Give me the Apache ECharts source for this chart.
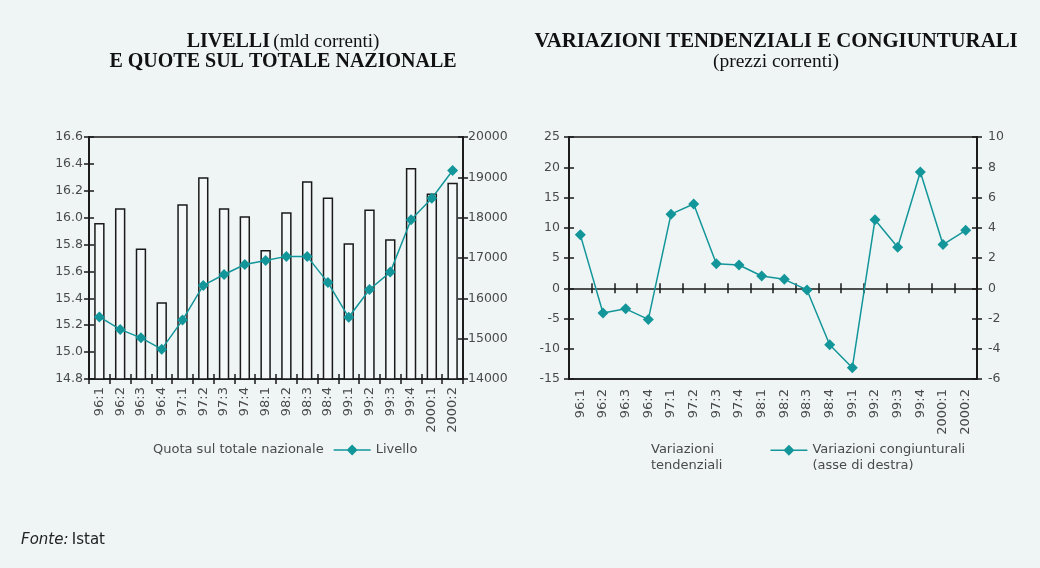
<!DOCTYPE html>
<html>
<head>
<meta charset="utf-8">
<title>Livelli e variazioni</title>
<script src="https://cdn.jsdelivr.net/npm/echarts@6/dist/echarts.min.js"></script>
<style>
  html, body { margin: 0; padding: 0; background: #eff5f5; }
  #chart { width: 1040px; height: 568px; }
</style>
</head>
<body>
<div id="chart"></div>
<script>
// trimestri
var categories = ['96:1', '96:2', '96:3', '96:4', '97:1', '97:2', '97:3', '97:4',
  '98:1', '98:2', '98:3', '98:4', '99:1', '99:2', '99:3', '99:4', '2000:1', '2000:2'];

// grafico di sinistra
var quota = [15.96, 16.07, 15.77, 15.37, 16.10, 16.30, 16.07, 16.01, 15.76,
  16.04, 16.27, 16.15, 15.81, 16.06, 15.84, 16.37, 16.18, 16.26];
var livello = [15540, 15230, 15020, 14740, 15460, 16320, 16590, 16840, 16940,
  17040, 17040, 16390, 15530, 16220, 16650, 17950, 18480, 19170];

// grafico di destra (la serie tendenziale non ha segni visibili)
var tendenziali = [];
var congiunturali = [3.53, -1.64, -1.36, -2.06, 4.90, 5.57, 1.62, 1.54, 0.81,
  0.59, -0.11, -3.74, -5.25, 4.53, 2.71, 7.68, 2.89, 3.83];

var teal = '#13969a';
var ink = '#1a1a1a';
var labelColor = '#4a4a4a';
var sans = 'DejaVu Sans';
var serif = 'Liberation Serif';

// icone legenda: linea con rombo (la seconda allineata alla prima riga del testo)
var lineIconShort = 'path://M0,4.25L37,4.25L37,5.75L0,5.75Z M13,5L18.5,-0.5L24,5L18.5,10.5Z';
var lineIcon = 'path://M0,4.25L37,4.25L37,5.75L0,5.75Z M13,5L18.5,-0.5L24,5L18.5,10.5Z M0,26L0.05,26L0,26.05Z';

function yAx(grid, pos, min, max, step, inside, margin, fmt) {
  return {
    type: 'value', gridIndex: grid, position: pos, min: min, max: max, interval: step,
    splitLine: { show: false },
    axisLine: { show: true, lineStyle: { color: ink, width: 1.5 } },
    axisTick: { show: true, inside: inside, length: 5, lineStyle: { color: ink, width: 1.5 } },
    axisLabel: { show: !inside, color: labelColor, fontFamily: sans, fontSize: 12.5, margin: margin,
      formatter: fmt || function (v) { return String(v); } }
  };
}

function xTicks(grid, inside, offset) {
  return {
    type: 'category', gridIndex: grid, data: categories, position: 'bottom', offset: offset,
    axisLine: { show: !inside, onZero: false, lineStyle: { color: ink, width: 1.5 } },
    axisTick: { show: true, interval: 0, inside: inside, length: 5, lineStyle: { color: ink, width: 1.5 } },
    axisLabel: { show: false }
  };
}

var myChart = echarts.init(document.getElementById('chart'));
myChart.setOption({
  backgroundColor: '#eff5f5',
  animation: false,
  grid: [
    { left: 89, right: 577, top: 137, bottom: 189, show: true, borderColor: ink, borderWidth: 1.5, backgroundColor: 'transparent' },
    { left: 569, right: 63, top: 137, bottom: 189, show: true, borderColor: ink, borderWidth: 1.5, backgroundColor: 'transparent' }
  ],
  xAxis: [
    { // sinistra, etichette + tacche esterne
      type: 'category', gridIndex: 0, data: categories, position: 'bottom',
      axisLine: { onZero: false, lineStyle: { color: ink, width: 1.5 } },
      axisTick: { show: true, interval: 0, length: 5, lineStyle: { color: ink, width: 1.5 } },
      axisLabel: { rotate: 90, interval: 0, color: labelColor, fontFamily: sans, fontSize: 13, margin: 8 }
    },
    xTicks(0, true, 0),
    { // destra, solo etichette in basso
      type: 'category', gridIndex: 1, data: categories, position: 'bottom',
      axisLine: { onZero: false, lineStyle: { color: ink, width: 1.5 } },
      axisTick: { show: false },
      axisLabel: { rotate: 90, interval: 0, color: labelColor, fontFamily: sans, fontSize: 13, margin: 10 }
    },
    // asse sullo zero del grafico di destra (tacche sopra e sotto)
    xTicks(1, false, -90.75),
    xTicks(1, true, -90.75)
  ],
  yAxis: [
    yAx(0, 'left', 14.8, 16.6, 0.2, false, 6, function (v) { return v.toFixed(1); }),
    yAx(0, 'left', 14.8, 16.6, 0.2, true, 6),
    yAx(0, 'right', 14000, 20000, 1000, false, 5),
    yAx(0, 'right', 14000, 20000, 1000, true, 5),
    yAx(1, 'left', -15, 25, 5, false, 9),
    yAx(1, 'right', -6, 10, 2, false, 11),
    yAx(1, 'left', -15, 25, 5, true, 9),
    yAx(1, 'right', -6, 10, 2, true, 11)
  ],
  legend: [
    {
      left: 110, top: 442, padding: 0, itemWidth: 37, itemHeight: 11, itemGap: 10,
      textStyle: { color: labelColor, fontFamily: sans, fontSize: 13, lineHeight: 16 },
      data: [
        { name: 'Quota sul totale nazionale', itemStyle: { opacity: 0 } },
        { name: 'Livello', icon: lineIconShort }
      ]
    },
    {
      left: 609, top: 442, padding: 0, itemWidth: 37, itemHeight: 26.5, itemGap: 48,
      textStyle: { color: labelColor, fontFamily: sans, fontSize: 13, lineHeight: 16 },
      data: [
        { name: 'Variazioni\ntendenziali', itemStyle: { opacity: 0 } },
        { name: 'Variazioni congiunturali\n(asse di destra)', icon: lineIcon }
      ]
    }
  ],
  series: [
    {
      name: 'Quota sul totale nazionale', type: 'bar', xAxisIndex: 0, yAxisIndex: 0,
      data: quota, barWidth: '50%',
      itemStyle: { color: '#f4f8f8', borderColor: ink, borderWidth: 1.5 }
    },
    {
      name: 'Livello', type: 'line', xAxisIndex: 0, yAxisIndex: 2, data: livello,
      symbol: 'diamond', symbolSize: 11, color: teal,
      lineStyle: { color: teal, width: 1.5 }, itemStyle: { color: teal }
    },
    {
      name: 'Variazioni\ntendenziali', type: 'bar', xAxisIndex: 2, yAxisIndex: 4,
      data: tendenziali, itemStyle: { color: 'transparent' }
    },
    {
      name: 'Variazioni congiunturali\n(asse di destra)', type: 'line', xAxisIndex: 2, yAxisIndex: 5,
      data: congiunturali, symbol: 'diamond', symbolSize: 11, color: teal,
      lineStyle: { color: teal, width: 1.5 }, itemStyle: { color: teal }
    }
  ],
  graphic: [
    {
      type: 'text', x: 283, y: 32,
      style: {
        text: '{b|LIVELLI} {n|(mld correnti)}\n{b|E QUOTE SUL TOTALE NAZIONALE}',
        align: 'center', fill: '#111',
        rich: {
          b: { fontFamily: serif, fontWeight: 'bold', fontSize: 20, lineHeight: 20, fill: '#111' },
          n: { fontFamily: serif, fontSize: 19, lineHeight: 20, fill: '#111' }
        }
      }
    },
    {
      type: 'text', x: 776, y: 32,
      style: {
        text: '{b|VARIAZIONI TENDENZIALI E CONGIUNTURALI}\n{n|(prezzi correnti)}',
        align: 'center', fill: '#111',
        rich: {
          b: { fontFamily: serif, fontWeight: 'bold', fontSize: 20.8, lineHeight: 20, fill: '#111' },
          n: { fontFamily: serif, fontSize: 19.5, lineHeight: 20, fill: '#111' }
        }
      }
    },
    {
      type: 'text', x: 21, y: 533,
      style: {
        text: '{i|Fonte:} {r|Istat}',
        rich: {
          i: { fontFamily: sans, fontStyle: 'italic', fontSize: 15, fill: '#222' },
          r: { fontFamily: sans, fontSize: 15, fill: '#222' }
        }
      }
    }
  ]
});
</script>
</body>
</html>
